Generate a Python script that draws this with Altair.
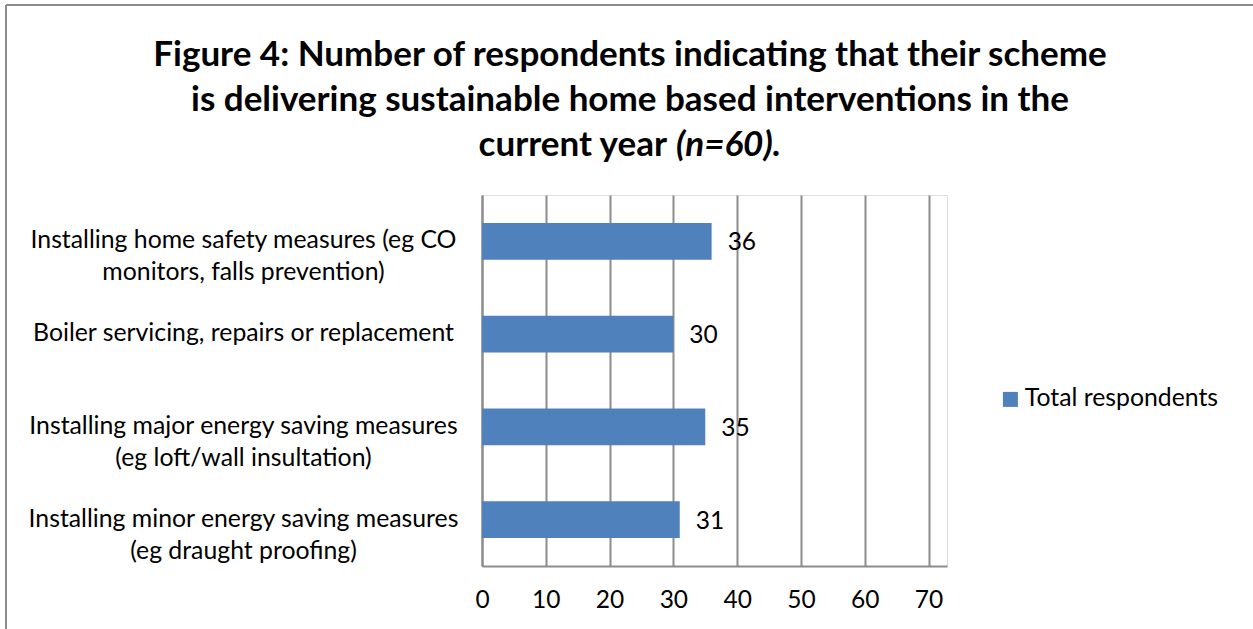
import altair as alt
import pandas as pd

# Survey results: interventions delivered in the current year (n=60)
categories = [
    "Installing home safety measures (eg CO|monitors, falls prevention)",
    "Boiler servicing, repairs or replacement",
    "Installing major energy saving measures|(eg loft/wall insultation)",
    "Installing minor energy saving measures|(eg draught proofing)",
]
respondents = [36, 30, 35, 31]
series_name = "Total respondents"
x_ticks = [0, 10, 20, 30, 40, 50, 60, 70]

title_lines = [
    "Figure 4: Number of respondents indicating that their scheme",
    "is delivering sustainable home based interventions in the",
]
title_tail = "current year"
title_note = "(n=60)."

FONT = "Lato"
BLUE = "#4F81BD"
GREY = "#8C8C8C"

df = pd.DataFrame({
    "category": categories,
    "value": respondents,
    "series": [series_name] * len(categories),
})

W, H = 465, 371

base = alt.Chart(df)

y_enc = alt.Y(
    "category:N",
    sort=categories,
    scale=alt.Scale(paddingInner=0.606, paddingOuter=0.303),
    axis=alt.Axis(
        title=None,
        labelExpr="split(datum.label, '|')",
        labelAlign="center",
        labelBaseline="middle",
        labelPadding=239,
        labelLineHeight=32,
        labelFontSize=24.8,
        labelFont=FONT,
        labelColor="#000000",
        labelLimit=600,
        ticks=False,
        tickSize=0,
        domain=True,
        domainColor=GREY,
        domainWidth=2,
        grid=False,
    ),
)

x_enc = alt.X(
    "value:Q",
    scale=alt.Scale(domain=[0, 72.9], nice=False),
    axis=alt.Axis(
        title=None,
        values=x_ticks,
        grid=True,
        gridColor=GREY,
        gridWidth=2,
        domainColor=GREY,
        domainWidth=2,
        ticks=False,
        tickSize=0,
        labelPadding=22,
        labelFontSize=24.5,
        labelFont=FONT,
        labelColor="#000000",
        labelFlush=False,
    ),
)

bars = base.mark_bar(color=BLUE).encode(
    x=x_enc,
    y=y_enc,
    color=alt.Color(
        "series:N",
        scale=alt.Scale(range=[BLUE]),
        legend=alt.Legend(
            title=None,
            orient="none",
            legendX=516,
            legendY=192,
            symbolType="square",
            symbolSize=225,
            symbolStrokeWidth=0,
            labelFontSize=24.8,
            labelFont=FONT,
            labelColor="#000000",
            labelOffset=2,
            labelLimit=400,
        ),
    ),
)

values = base.mark_text(
    align="left", baseline="middle", dx=16, dy=2, fontSize=24.5, font=FONT, color="#000000"
).encode(x="value:Q", y=alt.Y("category:N", sort=categories), text="value:Q")

# Title block drawn as text lines above the plot
tdf = pd.DataFrame({"t": [0]})
title_layers = []
for i, line in enumerate(title_lines):
    title_layers.append(
        alt.Chart(tdf).mark_text(
            text=line, font=FONT, fontSize=35, fontWeight="bold",
            align="center", baseline="middle", color="#000000",
        ).encode(x=alt.value(148), y=alt.value(-140 + 45 * i))
    )
title_layers.append(
    alt.Chart(tdf).mark_text(
        text=title_tail, font=FONT, fontSize=35, fontWeight="bold",
        align="right", baseline="middle", color="#000000",
    ).encode(x=alt.value(185), y=alt.value(-50))
)
title_layers.append(
    alt.Chart(tdf).mark_text(
        text=title_note, font=FONT, fontSize=35, fontWeight="bold", fontStyle="italic",
        align="left", baseline="middle", color="#000000",
    ).encode(x=alt.value(194), y=alt.value(-50))
)

# Outer frame: left and top edges
frame_left = alt.Chart(tdf).mark_rule(color=GREY, strokeWidth=2).encode(
    x=alt.value(-476), y=alt.value(-190), y2=alt.value(440)
)
frame_top = alt.Chart(tdf).mark_rule(color=GREY, strokeWidth=2).encode(
    x=alt.value(-476), x2=alt.value(780), y=alt.value(-190)
)

chart = alt.layer(
    bars, values, *title_layers, frame_left, frame_top
).properties(
    width=W,
    height=H,
    autosize=alt.AutoSizeParams(type="none"),
    padding={"left": 482, "top": 195, "right": 306, "bottom": 63},
).configure_view(stroke=None).configure(background="#FFFFFF")

chart.save("out.html", embed_options={"renderer": "svg", "actions": False})
